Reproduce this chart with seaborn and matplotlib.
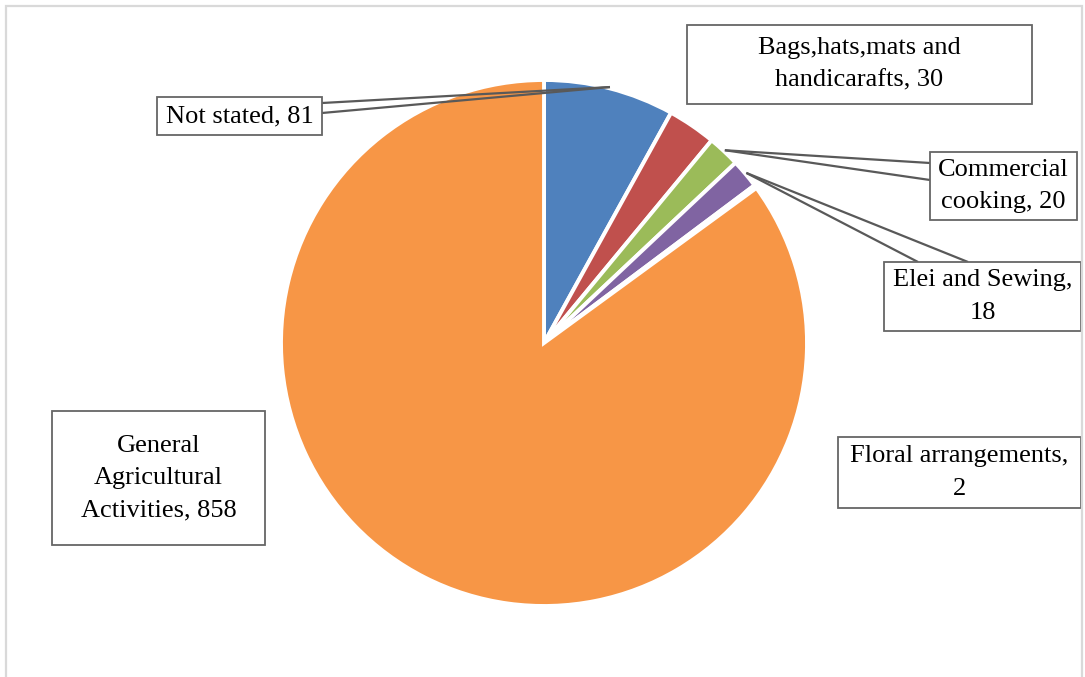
import matplotlib
matplotlib.use("Agg")
import matplotlib.pyplot as plt
from matplotlib.patches import Rectangle
import numpy as np
import seaborn as sns

# ---- data ----
categories = ["Not stated", "Bags,hats,mats and handicarafts", "Commercial cooking",
              "Elei and Sewing", "Floral arrangements", "General Agricultural Activities"]
values = [81, 30, 20, 18, 2, 858]
label_texts = ["Not stated, 81", "Bags,hats,mats and\nhandicarafts, 30", "Commercial\ncooking, 20",
               "Elei and Sewing,\n18", "Floral arrangements,\n2", "General\nAgricultural\nActivities, 858"]
colors = ["#4F81BD", "#C0504D", "#9BBB59", "#8064A2", "#4BACC6", "#F79646"]

sns.set_theme(style="white")
plt.rcParams["font.family"] = ["Liberation Serif", "DejaVu Serif"]

W, H = 1085, 677
fig = plt.figure(figsize=(W / 100, H / 100), dpi=100)
ax = fig.add_axes([0, 0, 1, 1])
ax.set_xlim(0, W)
ax.set_ylim(0, H)
ax.axis("off")

cx, cy, R = 544, H - 343, 263
wedges, _ = ax.pie(values, colors=colors, startangle=90, counterclock=False,
                   center=(cx, cy), radius=R,
                   wedgeprops=dict(edgecolor="white", linewidth=2.8))
ax.set_xlim(0, W)
ax.set_ylim(0, H)
ax.set_aspect("equal")

# label boxes (layout in pixels: x0, y0_top, x1, y1_bottom)
boxes = [(157, 97, 322, 135), (687, 25, 1032, 104), (930, 152, 1077, 220),
         (884, 262, 1081, 331), (838, 437, 1081, 508), (52, 411, 265, 545)]
# leader anchor points on box edges (pixel coords), None if no leader
anchors = [[(322, 103), (322, 113)], None, [(930, 163), (930, 180)],
           [(918, 262), (968, 262)], None, None]

total = sum(values)
cum = np.cumsum([0] + values)
for i, (txt, b) in enumerate(zip(label_texts, boxes)):
    x0, yt, x1, yb = b
    ax.add_patch(Rectangle((x0, H - yb), x1 - x0, yb - yt, facecolor="white",
                           edgecolor="#666666", linewidth=1.3, zorder=5))
    ax.text((x0 + x1) / 2, H - (yt + yb) / 2, txt, ha="center", va="center",
            fontsize=19, color="black", linespacing=1.6, zorder=6)
    if anchors[i] is not None:
        mid = (cum[i] + values[i] / 2) / total * 2 * np.pi
        tx = cx + 1.005 * R * np.sin(mid)
        ty = cy + 1.005 * R * np.cos(mid)
        for (axp, ayp) in anchors[i]:
            ax.plot([tx, axp], [ty, H - ayp], color="#595959", linewidth=1.6,
                    zorder=4, solid_capstyle="butt")

# outer chart frame
fig.add_artist(Rectangle((6 / W, -0.05), (1082 - 6) / W, (H - 6) / H + 0.05,
                         transform=fig.transFigure, facecolor="none",
                         edgecolor="#D9D9D9", linewidth=1.6))

fig.savefig("out.png", dpi=100, facecolor="white")
